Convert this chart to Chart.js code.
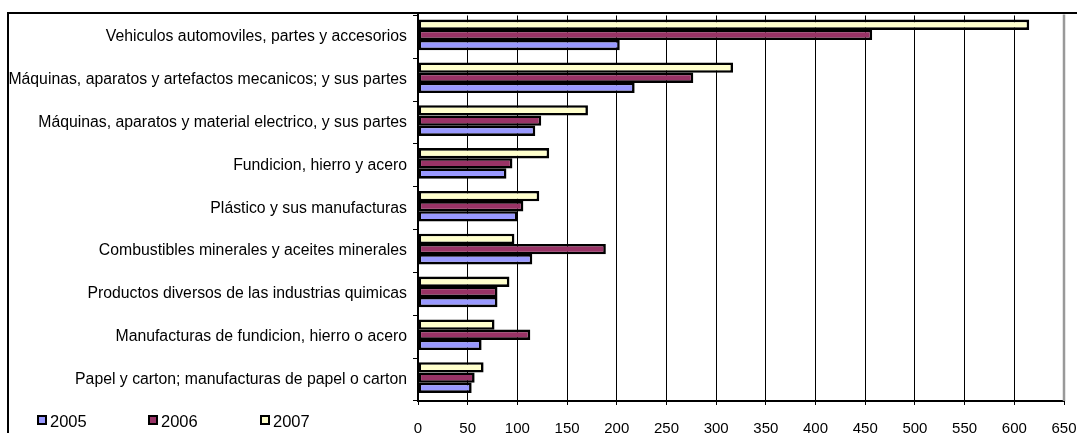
<!DOCTYPE html>
<html>
<head>
<meta charset="utf-8">
<script src="https://cdn.jsdelivr.net/npm/chart.js@4"></script>
<style>
    html, body { margin: 0; padding: 0; background: #fff; }
    #wrap { width: 1077px; height: 433px; position: relative; }
</style>
</head>
<body>
<div id="wrap"><canvas id="chart"></canvas></div>
<script>
// Data
const categories = [
    'Vehiculos automoviles, partes y accesorios',
    'Máquinas, aparatos y artefactos mecanicos; y sus partes',
    'Máquinas, aparatos y material electrico, y sus partes',
    'Fundicion, hierro y acero',
    'Plástico y sus manufacturas',
    'Combustibles minerales y aceites minerales',
    'Productos diversos de las industrias quimicas',
    'Manufacturas de fundicion, hierro o acero',
    'Papel y carton; manufacturas de papel o carton'
];
const years = ['2005', '2006', '2007'];
const values2005 = [203, 218, 118, 89, 100, 115, 80, 64, 54];
const values2006 = [457, 277, 124, 95, 106, 189, 80, 113, 57];
const values2007 = [615, 317, 171, 132, 122, 97, 92, 77, 66];
const xTicks = [0, 50, 100, 150, 200, 250, 300, 350, 400, 450, 500, 550, 600, 650];

const colors = { '2005': '#9999FF', '2006': '#993366', '2007': '#FFFFCC' };
const FONT = '"Liberation Sans", Arial, sans-serif';

// 2007 on top, 2005 at the bottom of each group
const series = [
    { label: '2007', data: values2007 },
    { label: '2006', data: values2006 },
    { label: '2005', data: values2005 }
];

// bar groups sit a little above the middle of their band
const nudgeBars = {
    id: 'nudgeBars',
    beforeDatasetsDraw(chart) {
        chart.ctx.save();
        chart.ctx.translate(0, -2);
    },
    afterDatasetsDraw(chart) {
        chart.ctx.restore();
    }
};

// Frame, right border and legend drawn by hand
const decorations = {
    id: 'decorations',
    afterDraw(chart) {
        const ctx = chart.ctx;
        const area = chart.chartArea;
        ctx.save();

        // gray right edge of the plot
        ctx.strokeStyle = '#999';
        ctx.lineWidth = 2.5;
        ctx.beginPath();
        ctx.moveTo(area.right, area.top - 1);
        ctx.lineTo(area.right, area.bottom);
        ctx.stroke();

        // outer frame
        ctx.strokeStyle = '#000';
        ctx.lineWidth = 2;
        ctx.beginPath();
        ctx.moveTo(8, 434);
        ctx.lineTo(8, 13);
        ctx.lineTo(1078, 13);
        ctx.stroke();

        // legend
        const legendX = [38, 149, 261];
        ctx.font = '16.5px ' + FONT;
        ctx.textBaseline = 'middle';
        years.forEach((y, i) => {
            const x = legendX[i];
            ctx.fillStyle = colors[y];
            ctx.fillRect(x, 416, 8, 8);
            ctx.strokeStyle = '#000';
            ctx.lineWidth = 2;
            ctx.strokeRect(x, 416, 8, 8);
            ctx.fillStyle = '#000';
            ctx.fillText(y, x + 12, 422);
        });
        ctx.restore();
    }
};

new Chart(document.getElementById('chart'), {
    type: 'bar',
    data: {
        labels: categories,
        datasets: series.map(s => ({
            label: s.label,
            data: s.data,
            backgroundColor: colors[s.label],
            borderColor: '#000',
            borderWidth: 2.6,
            borderSkipped: false,
            barPercentage: 1.02,
            categoryPercentage: 0.71
        }))
    },
    options: {
        indexAxis: 'y',
        responsive: true,
        maintainAspectRatio: false,
        animation: false,
        layout: { padding: { top: 14, right: 13, left: 0, bottom: 0 } },
        plugins: {
            legend: { display: false },
            tooltip: { enabled: false }
        },
        scales: {
            x: {
                min: 0,
                max: 650,
                afterBuildTicks(scale) {
                    scale.ticks = xTicks.map(v => ({ value: v }));
                },
                afterFit(scale) {
                    scale.height = 32;
                    scale.paddingLeft = 0;
                    scale.paddingRight = 0;
                },
                grid: { color: '#000', lineWidth: 1, tickLength: 4, tickColor: '#000' },
                border: { color: '#000', width: 2 },
                ticks: {
                    color: '#000',
                    padding: 15,
                    maxRotation: 0,
                    font: { family: FONT, size: 15 }
                }
            },
            y: {
                offset: true,
                afterFit(scale) { scale.width = 418; },
                grid: {
                    offset: true,
                    drawOnChartArea: false,
                    tickLength: 5,
                    tickColor: '#000',
                    color: '#000'
                },
                border: { color: '#000', width: 2 },
                ticks: {
                    color: '#000',
                    padding: 6,
                    autoSkip: false,
                    font: { family: FONT, size: 15.8 }
                }
            }
        }
    },
    plugins: [nudgeBars, decorations]
});
</script>
</body>
</html>
